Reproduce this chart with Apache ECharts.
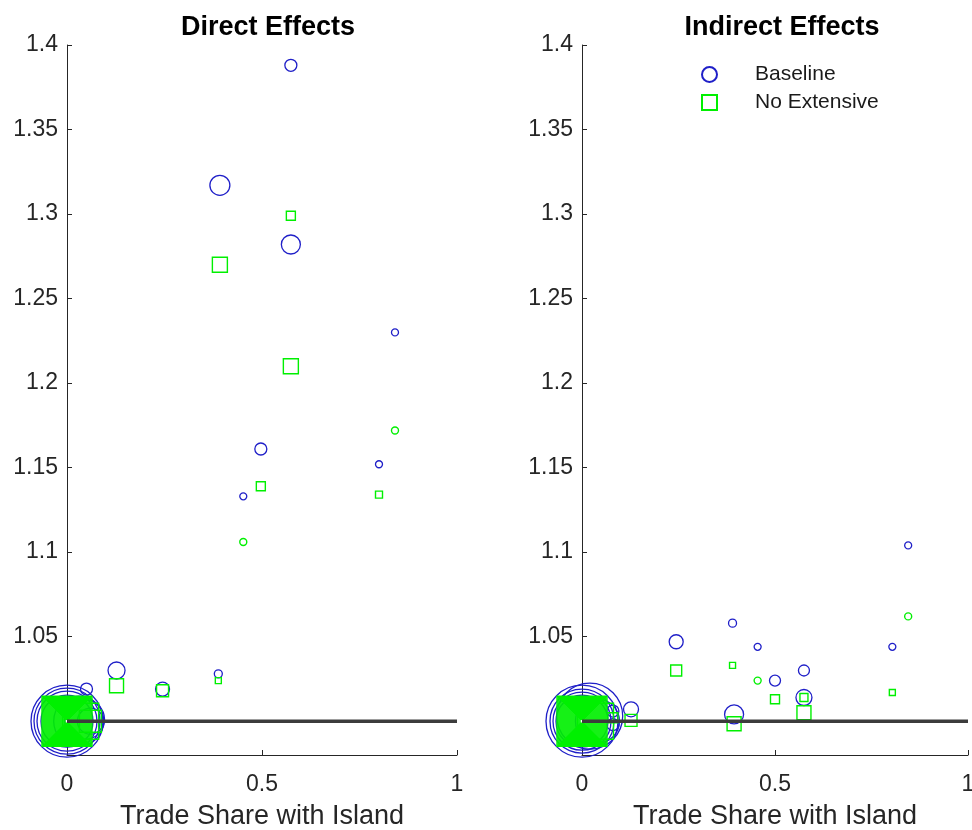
<!DOCTYPE html>
<html>
<head>
<meta charset="utf-8">
<script src="https://cdn.jsdelivr.net/npm/echarts@6/dist/echarts.min.js"></script>
<style>
html,body{margin:0;padding:0;background:#fff;}
#chart{width:972px;height:830px;}
</style>
</head>
<body>
<div id="chart"></div>
<script>
// ---- tick labels ----
const xTicks = [0, 0.5, 1];
const yTicks = [1.05, 1.1, 1.15, 1.2, 1.25, 1.3, 1.35, 1.4];
const panelTitles = ['Direct Effects', 'Indirect Effects'];
const xLabel = 'Trade Share with Island';
const seriesNames = ['Baseline', 'No Extensive'];
const refLineX = [0, 1];
const refLineY = [1, 1];

// ---- Direct effects: Baseline (x, effect, weight) ----
const directBaseX = [0.574, 0.392, 0.574, 0.841, 0.497, 0.800, 0.452, 0.127, 0.245, 0.388, 0.050,
  0, 0, 0, 0, 0.030, 0.045, 0.060];
const directBaseY = [1.388, 1.317, 1.282, 1.230, 1.161, 1.152, 1.133, 1.030, 1.019, 1.028, 1.019,
  1.000, 1.000, 1.000, 1.000, 1.000, 1.001, 1.000];
const directBaseW = [12, 20, 19, 7, 12, 7, 7, 17, 14, 8, 12,
  72, 66, 60, 52, 50, 40, 26];

// ---- Direct effects: No Extensive ----
const directNoExtX = [0.574, 0.392, 0.574, 0.841, 0.497, 0.800, 0.452, 0.127, 0.245, 0.388,
  0, 0, 0, 0, 0, 0, 0, 0, 0, 0, 0, 0, 0, 0, 0, 0, 0, 0, 0, 0, 0, 0, 0, 0, 0.035, 0.060];
const directNoExtY = [1.299, 1.270, 1.210, 1.172, 1.139, 1.134, 1.106, 1.021, 1.018, 1.024,
  1, 1, 1, 1, 1, 1, 1, 1, 1, 1, 1, 1, 1, 1, 1, 1, 1, 1, 1, 1, 1, 1, 1, 1, 1.000, 1.000];
const directNoExtW = [9, 15, 15, 7, 9, 7, 7, 14, 12, 6,
  50, 48, 46, 44, 42, 40, 38, 36, 34, 32, 30, 28, 26, 24, 22, 20, 18, 16, 14, 12, 10, 8, 6, 4, 36, 22];
const directNoExtShape = ['rect', 'rect', 'rect', 'circle', 'rect', 'rect', 'circle', 'rect', 'rect', 'rect',
  'rect', 'rect', 'rect', 'rect', 'rect', 'rect', 'rect', 'rect', 'rect', 'rect', 'rect', 'rect', 'rect', 'rect',
  'rect', 'rect', 'rect', 'rect', 'rect', 'rect', 'rect', 'rect', 'rect', 'rect', 'rect', 'rect'];

// ---- Indirect effects: Baseline ----
const indirectBaseX = [0.845, 0.804, 0.244, 0.390, 0.455, 0.500, 0.575, 0.575, 0.394, 0.127,
  0, 0, 0, 0, 0.020, 0.040, 0.080, 0.080];
const indirectBaseY = [1.104, 1.044, 1.047, 1.058, 1.044, 1.024, 1.030, 1.014, 1.004, 1.007,
  1.000, 1.000, 1.000, 1.000, 1.003, 1.000, 1.006, 0.998];
const indirectBaseW = [7, 7, 14, 8, 7, 11, 11, 16, 19, 15,
  72, 64, 58, 52, 66, 44, 12, 12];

// ---- Indirect effects: No Extensive ----
const indirectNoExtX = [0.845, 0.804, 0.244, 0.390, 0.455, 0.500, 0.575, 0.575, 0.394, 0.127,
  0, 0, 0, 0, 0, 0, 0, 0, 0, 0, 0, 0, 0, 0, 0, 0, 0, 0, 0, 0, 0, 0, 0, 0, 0.035, 0.080];
const indirectNoExtY = [1.062, 1.017, 1.030, 1.033, 1.024, 1.013, 1.014, 1.005, 0.9985, 1.0005,
  1, 1, 1, 1, 1, 1, 1, 1, 1, 1, 1, 1, 1, 1, 1, 1, 1, 1, 1, 1, 1, 1, 1, 1, 1.000, 1.002];
const indirectNoExtW = [7, 6, 11, 6, 7, 9, 8, 14, 14, 12,
  50, 48, 46, 44, 42, 40, 38, 36, 34, 32, 30, 28, 26, 24, 22, 20, 18, 16, 14, 12, 10, 8, 6, 4, 36, 10];
const indirectNoExtShape = ['circle', 'rect', 'rect', 'rect', 'circle', 'rect', 'rect', 'rect', 'rect', 'rect',
  'rect', 'rect', 'rect', 'rect', 'rect', 'rect', 'rect', 'rect', 'rect', 'rect', 'rect', 'rect', 'rect', 'rect',
  'rect', 'rect', 'rect', 'rect', 'rect', 'rect', 'rect', 'rect', 'rect', 'rect', 'rect', 'rect'];

// ---- build ----
const BLUE = '#1f1fc8';
const GREEN = '#00f000';
const FONT = 'Liberation Sans, Arial, Helvetica, sans-serif';

function pts(xs, ys, ws, shapes) {
  return xs.map((x, i) => {
    const o = { value: [x, ys[i], ws[i]] };
    if (shapes) o.symbol = shapes[i];
    return o;
  });
}

const grids = [
  { left: 67, top: 45, width: 390, height: 710, containLabel: false, outerBoundsMode: 'none' },
  { left: 582, top: 45, width: 386, height: 710, containLabel: false, outerBoundsMode: 'none' }
];

function xAxisFor(i) {
  return {
    gridIndex: i, type: 'value', min: 0, max: 1, interval: 0.5,
    name: xLabel, nameLocation: 'middle', nameGap: 48,
    nameTextStyle: { fontFamily: FONT, fontSize: 27, color: '#262626' },
    axisLine: { show: true, lineStyle: { color: '#262626', width: 1 } },
    axisTick: { show: true, inside: true, length: 5, lineStyle: { color: '#262626' } },
    axisLabel: { fontFamily: FONT, fontSize: 23, color: '#262626', margin: 18,
      formatter: v => (xTicks.indexOf(v) >= 0 ? String(v) : '') },
    splitLine: { show: false }
  };
}
function yAxisFor(i) {
  return {
    gridIndex: i, type: 'value', min: 0.98, max: 1.4,
    axisLine: { show: true, lineStyle: { color: '#262626', width: 1 } },
    axisTick: { show: true, inside: true, length: 5, customValues: yTicks, lineStyle: { color: '#262626' } },
    axisLabel: { fontFamily: FONT, fontSize: 23, color: '#262626', margin: 9, customValues: yTicks,
      formatter: v => String(Math.round(v * 100) / 100) },
    splitLine: { show: false }
  };
}

function baseSeries(i, data) {
  return {
    name: seriesNames[0], type: 'scatter', xAxisIndex: i, yAxisIndex: i,
    symbol: 'circle', symbolSize: d => d[2], data: data, z: 3,
    itemStyle: { color: 'rgba(0,0,0,0)', borderColor: BLUE, borderWidth: 1.3, opacity: 1 },
    emphasis: { disabled: true }, animation: false
  };
}
function noExtSeries(i, data) {
  return {
    name: seriesNames[1], type: 'scatter', xAxisIndex: i, yAxisIndex: i,
    symbol: 'rect', symbolSize: d => d[2], data: data, z: 4,
    itemStyle: { color: 'rgba(0,0,0,0)', borderColor: GREEN, borderWidth: 1.4, opacity: 1 },
    emphasis: { disabled: true }, animation: false
  };
}
function refSeries(i) {
  return {
    type: 'line', xAxisIndex: i, yAxisIndex: i, z: 5,
    data: refLineX.map((x, k) => [x, refLineY[k]]),
    symbol: 'none', lineStyle: { color: '#3c3c3c', width: 3.5 },
    silent: true, animation: false
  };
}

const option = {
  backgroundColor: '#ffffff',
  animation: false,
  title: [
    { text: panelTitles[0], left: 263, top: 9, textAlign: 'center',
      textStyle: { fontFamily: FONT, fontSize: 27, fontWeight: 'bold', color: '#000' } },
    { text: panelTitles[1], left: 777, top: 9, textAlign: 'center',
      textStyle: { fontFamily: FONT, fontSize: 27, fontWeight: 'bold', color: '#000' } }
  ],
  legend: {
    data: seriesNames, orient: 'vertical', left: 696, top: 59,
    itemWidth: 15, itemHeight: 15, itemGap: 7,
    textStyle: { fontFamily: FONT, fontSize: 21, color: '#1a1a1a', padding: [0, 0, 0, 33] },
    selectedMode: false
  },
  grid: grids,
  xAxis: [xAxisFor(0), xAxisFor(1)],
  yAxis: [yAxisFor(0), yAxisFor(1)],
  series: [
    baseSeries(0, pts(directBaseX, directBaseY, directBaseW)),
    noExtSeries(0, pts(directNoExtX, directNoExtY, directNoExtW, directNoExtShape)),
    refSeries(0),
    baseSeries(1, pts(indirectBaseX, indirectBaseY, indirectBaseW)),
    noExtSeries(1, pts(indirectNoExtX, indirectNoExtY, indirectNoExtW, indirectNoExtShape)),
    refSeries(1)
  ]
};

const chart = echarts.init(document.getElementById('chart'), null, { renderer: 'canvas' });
chart.setOption(option);
</script>
</body>
</html>
